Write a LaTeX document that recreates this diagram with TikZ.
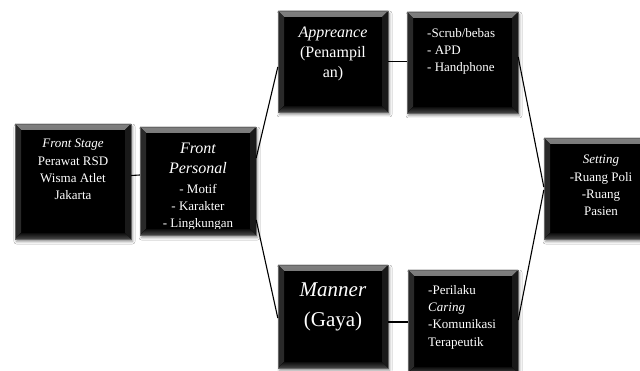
\documentclass[tikz,border=0pt]{standalone}
\usepackage{fontspec}
\setmainfont{Liberation Serif}
\usetikzlibrary{shadows.blur}
\begin{document}
\begin{tikzpicture}[x=1pt,y=-1pt,
  box/.style={fill=black, draw=black!60, line width=0.4pt, inner sep=0pt,
    blur shadow={shadow xshift=1.5pt, shadow yshift=-2.5pt, shadow blur radius=2.5pt, shadow opacity=45},
    path picture={
      \fill[top color=black!50, bottom color=black!92]
        (path picture bounding box.north west) -- (path picture bounding box.north east)
        -- ([shift={(-6pt,-6pt)}]path picture bounding box.north east)
        -- ([shift={(6pt,-6pt)}]path picture bounding box.north west) -- cycle;
      \fill[black!84]
        (path picture bounding box.north west) -- (path picture bounding box.south west)
        -- ([shift={(6pt,6pt)}]path picture bounding box.south west)
        -- ([shift={(6pt,-6pt)}]path picture bounding box.north west) -- cycle;
      \fill[top color=black!95, bottom color=black!72]
        (path picture bounding box.south west) -- (path picture bounding box.south east)
        -- ([shift={(-6pt,6pt)}]path picture bounding box.south east)
        -- ([shift={(6pt,6pt)}]path picture bounding box.south west) -- cycle;
      \fill[black!90]
        (path picture bounding box.north east) -- (path picture bounding box.south east)
        -- ([shift={(-6pt,6pt)}]path picture bounding box.south east)
        -- ([shift={(-6pt,-6pt)}]path picture bounding box.north east) -- cycle;
    }},
  txt/.style={text=white, inner sep=0pt, font=\fontsize{13}{17.3}\selectfont},
  big/.style={txt, font=\fontsize{16}{20}\selectfont},
  link/.style={draw=black, line width=1.1pt}
]
\clip (0,0) rectangle (640,371);
\fill[white] (0,0) rectangle (640,371);

% boxes
\node[box, minimum width=116pt, minimum height=115pt] (b1) at (73,181.5) {};
\node[box, minimum width=116pt, minimum height=108pt] (b2) at (198,181) {};
\node[box, minimum width=110pt, minimum height=101pt] (b3) at (333,61.5) {};
\node[box, minimum width=111pt, minimum height=101pt] (b4) at (462.5,62.5) {};
\node[box, minimum width=110pt, minimum height=103pt] (b5) at (333,316.5) {};
\node[box, minimum width=110pt, minimum height=103pt] (b6) at (463,321.5) {};
\node[box, minimum width=102pt, minimum height=101pt] (b7) at (595,188.5) {};

% connectors
\draw[link] ([yshift=6pt]b1.east) -- ([yshift=6pt]b2.west);
\draw[link] ([yshift=23pt]b2.east) -- ([yshift=-5.5pt]b3.west);
\draw[link] ([yshift=-39pt]b2.east) -- ([yshift=-1.5pt]b5.west);
\draw[link] (b3.east) -- ([yshift=1pt]b4.west);
\draw[link] ([yshift=-5.5pt]b5.east) -- ([yshift=-0.5pt]b6.west);
\draw[link] ([yshift=5.5pt]b4.east) -- ([yshift=1.5pt]b7.west);
\draw[link] ([yshift=1.5pt]b6.east) -- ([yshift=-1.5pt]b7.west);

% texts
\node[txt, anchor=north, align=center] (b1t) at (73,139)
  {\textit{Front Stage}\\Perawat RSD\\Wisma Atlet\\Jakarta};
\node[big, anchor=north, align=center, font=\fontsize{16}{20}\selectfont\itshape] (b2a) at (198,143)
  {Front\\Personal};
\begin{scope}
  \clip (140,127) rectangle (256,229);
  \node[txt, anchor=north, align=center] (b2b) at (198,184)
    {- Motif\\- Karakter\\- Lingkungan};
\end{scope}
\node[big, anchor=north, align=center] (b3t) at (333,27)
  {\textit{Appreance}\\(Penampil\\an)};
\node[txt, anchor=north west, align=left] (b4t) at (427,28)
  {-Scrub/bebas\\- APD\\- Handphone};
\node[txt, anchor=north, align=center, font=\fontsize{21}{30}\selectfont] (b5t) at (333,283)
  {\textit{Manner}\\(Gaya)};
\node[txt, anchor=north west, align=left] (b6t) at (428,285)
  {-Perilaku\\\textit{Caring}\\-Komunikasi\\Terapeutik};
\node[txt, anchor=north, align=center] (b7t) at (601,155)
  {\textit{Setting}\\-Ruang Poli\\-Ruang\\Pasien};
\end{tikzpicture}
\end{document}
